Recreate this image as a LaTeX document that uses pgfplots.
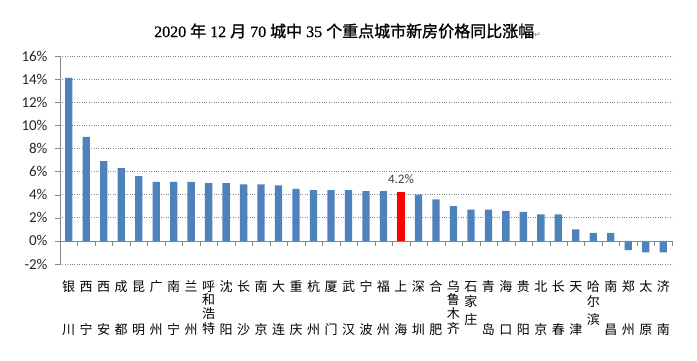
\documentclass[border=0pt]{standalone}
\usepackage{pgfplots}
\pgfplotsset{compat=1.18}
\usepackage{pgfplotstable}
\usepackage{fontspec}
\setmainfont{Carlito}
\newfontfamily\cjk{Noto Sans CJK SC}
\newfontfamily\cjkb[FakeBold=1.2]{Noto Sans CJK SC}
\newfontfamily\tdig[FakeBold=0.6]{Liberation Serif}
\newfontfamily\dvs{DejaVu Sans}
\definecolor{barblue}{HTML}{4F81BD}
\definecolor{axgray}{HTML}{868686}

\newcommand{\C}[1]{\hbox to 16pt{\hss\raisebox{0pt}[11.4pt][1.6pt]{\cjk\fontsize{13pt}{13pt}\selectfont #1}\hss}}
\newcommand{\two}[2]{\vbox{\offinterlineskip\C{#1}\vskip30.3pt\C{#2}}}
\newcommand{\three}[3]{\vbox{\offinterlineskip\C{#1}\vskip2pt\C{#2}\vskip4.6pt\C{#3}}}
\newcommand{\four}[4]{\vbox{\offinterlineskip\C{#1}\vskip0pt\C{#2}\vskip1pt\C{#3}\vskip1.4pt\C{#4}}}

\pgfplotstableread{
x y
0 14.1
1 9.0
2 6.9
3 6.3
4 5.6
5 5.1
6 5.1
7 5.1
8 5.0
9 5.0
10 4.9
11 4.9
12 4.8
13 4.5
14 4.4
15 4.4
16 4.4
17 4.3
18 4.3
20 4.0
21 3.6
22 3.0
23 2.7
24 2.7
25 2.6
26 2.5
27 2.3
28 2.3
29 1.0
30 0.7
31 0.7
32 -0.8
33 -1.0
34 -1.0
}\bluedata

\begin{document}
\begin{tikzpicture}
\path[use as bounding box] (-60pt,-97pt) rectangle (637pt,264pt);
\begin{axis}[
  at={(0pt,0pt)}, anchor=south west,
  scale only axis, width=612pt, height=208pt,
  xmin=-0.5, xmax=34.5, ymin=-2, ymax=16,
  axis lines*=left,
  x axis line style={draw=none},
  y axis line style={axgray},
  ytick={-2,0,...,16},
  yticklabel={\pgfmathprintnumber{\tick}\%},
  /pgf/number format/assume math mode=true,
  yticklabel style={font=\fontsize{15pt}{15pt}\selectfont, text=black!85, xshift=-4pt},
  ytick style={axgray},
  tick align=outside,
  major tick length=5pt,
  ymajorgrids,
  grid style={axgray, dotted, line width=0.6pt},
  xtick={0,...,34},
  xtick style={draw=none},
  xticklabels={{\two{银}{川}},{\two{西}{宁}},{\two{西}{安}},{\two{成}{都}},{\two{昆}{明}},{\two{广}{州}},{\two{南}{宁}},{\two{兰}{州}},{\four{呼}{和}{浩}{特}},{\two{沈}{阳}},{\two{长}{沙}},{\two{南}{京}},{\two{大}{连}},{\two{重}{庆}},{\two{杭}{州}},{\two{厦}{门}},{\two{武}{汉}},{\two{宁}{波}},{\two{福}{州}},{\two{上}{海}},{\two{深}{圳}},{\two{合}{肥}},{\four{乌}{鲁}{木}{齐}},{\three{石}{家}{庄}},{\two{青}{岛}},{\two{海}{口}},{\two{贵}{阳}},{\two{北}{京}},{\two{长}{春}},{\two{天}{津}},{\three{哈}{尔}{滨}},{\two{南}{昌}},{\two{郑}{州}},{\two{太}{原}},{\two{济}{南}}},
  xticklabel style={anchor=north, inner sep=0pt, yshift=-11pt, text=black},
  ybar, bar width=7.3pt, bar shift=0pt,
  clip=false,
]
\addplot[fill=barblue, draw=none] table[x=x,y=y] {\bluedata};
\addplot[fill=red, draw=none, nodes near coords={\pgfmathprintnumber[fixed,precision=1]{\pgfplotspointmeta}\%},
  nodes near coords style={font=\fontsize{13pt}{13pt}\selectfont, text=black!75, anchor=south, yshift=5pt}]
  coordinates {(19,4.2)};
\end{axis}
\begin{axis}[
  at={(0pt,0pt)}, anchor=south west,
  scale only axis, width=612pt, height=208pt,
  xmin=-0.5, xmax=34.5, ymin=-2, ymax=16,
  axis x line=middle, axis y line=none,
  x axis line style={axgray, -},
  xtick={-0.5,0.5,...,34.5},
  xticklabel style={text opacity=0, font=\tiny},
  ytick=\empty,
  tick align=center,
  major tick length=5pt,
  xtick style={axgray, yshift=-2.5pt},
]
\end{axis}
\node[anchor=west, inner sep=0pt] at (94pt,233pt) {\fontsize{16pt}{16pt}\selectfont\tdig 2020 {\cjkb 年} 12 {\cjkb 月} 70 {\cjkb 城中} 35 {\cjkb 个重点城市新房价格同比涨幅}{\dvs\fontsize{8pt}{8pt}\selectfont\color{gray}↵}};
\end{tikzpicture}
\end{document}
